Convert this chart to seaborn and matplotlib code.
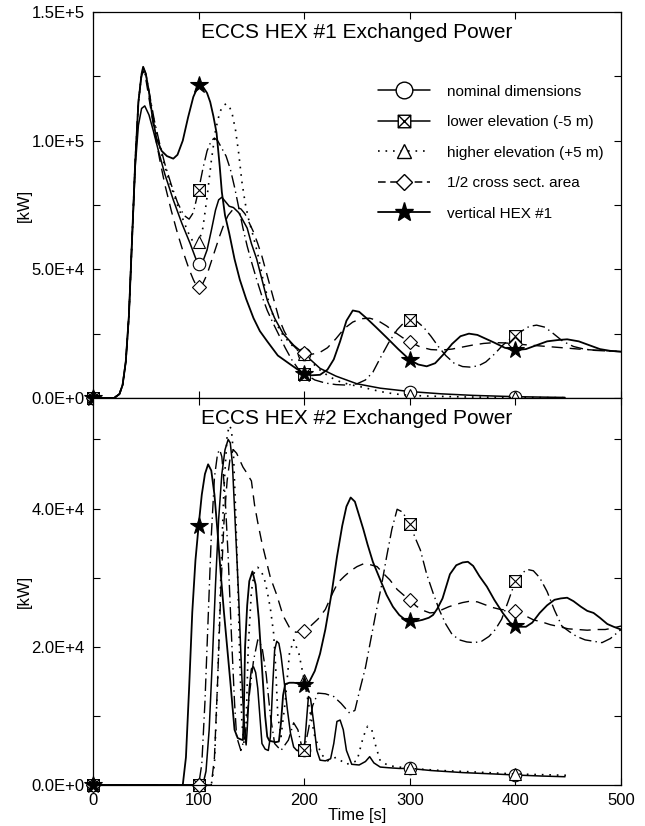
import numpy as np
import matplotlib
matplotlib.use('Agg')
import matplotlib.pyplot as plt
import seaborn as sns
from matplotlib.lines import Line2D
from matplotlib.path import Path
from matplotlib.ticker import FixedLocator, FuncFormatter

# Values: (time [s], power [kW/1000])
# ECCS HEX #1
nom_1 = [(0, 0), (20, 0), (25, 1.5), (28, 5), (31, 14), (34, 32), (37, 62), (40, 90), (43, 106), (46, 112.5),
         (49, 113.5), (53, 110), (57, 104), (62, 96), (68, 87), (76, 77), (84, 68), (92, 60), (97, 54.5), (100, 52),
         (104, 53), (108, 57.5), (112, 65), (116, 73), (119, 77), (122, 78), (125, 76.5), (129, 74.5), (133, 74),
         (138, 72), (142, 69), (146, 66), (150, 60), (155, 54), (160, 46), (165, 38), (172, 31), (180, 25),
         (190, 20.5), (200, 17.1), (215, 11.5), (230, 8.5), (250, 5.5), (272, 3.8), (300, 2.5), (330, 1.6),
         (360, 1.0), (400, 0.5), (447, 0.2)]
low_1 = [(0, 0), (20, 0), (25, 1.5), (28, 5), (31, 14), (34, 32), (37, 62), (40, 92), (43, 115), (46, 126),
         (47.5, 128.5), (50, 126), (54, 117), (58, 108), (63, 99), (68, 91), (74, 83), (80, 76), (86, 71), (91, 69.5),
         (95, 72), (100, 80.8), (104, 89), (108, 96), (112, 100), (115, 101), (118, 100), (122, 97), (126, 94),
         (130, 89), (134, 82), (138, 74), (142, 66), (146, 59), (150, 53), (155, 46), (160, 39.5), (165, 34),
         (170, 29.5), (176, 24.5), (182, 19.5), (188, 15), (194, 11.5), (200, 9.5), (210, 7), (220, 5.8), (230, 5.2),
         (240, 5), (250, 5.5), (258, 7), (265, 10), (272, 15.5), (280, 21.5), (288, 26.5), (295, 29.5), (300, 30.3),
         (306, 30), (313, 27.5), (320, 24), (327, 20), (334, 16.5), (342, 13.5), (350, 12.2), (357, 12), (365, 12.5),
         (372, 14), (380, 17), (388, 20.5), (395, 23), (400, 24.2), (406, 26), (413, 27.8), (420, 28.3), (428, 27.5),
         (436, 25), (445, 22), (455, 20), (465, 19), (475, 18.5), (490, 18.2), (500, 18)]
hi_1 = [(0, 0), (20, 0), (25, 1.5), (28, 5), (31, 14), (34, 32), (37, 62), (40, 92), (43, 115), (46, 126),
        (47.5, 128), (50, 125), (54, 116), (58, 107), (63, 98), (68, 90), (74, 82), (80, 75), (86, 68.5), (91, 63.5),
        (95, 60.5), (100, 60.5), (104, 66), (108, 78), (112, 92), (116, 104), (120, 111), (123, 113.5), (126, 114.3),
        (129, 113.5), (132, 110), (135, 104), (138, 95), (141, 84), (144, 76), (147, 70), (151, 64), (156, 56),
        (161, 46), (166, 38), (172, 30), (179, 25), (187, 21), (194, 18.5), (200, 17), (208, 13.5), (216, 10.5),
        (225, 8), (234, 6.3), (243, 5.2), (252, 4.5), (262, 3.5), (272, 2.5), (285, 1.6), (300, 1.0), (320, 0.7),
        (350, 0.4), (400, 0.2), (450, 0.1)]
half_1 = [(0, 0), (20, 0), (25, 1.5), (28, 5), (31, 14), (34, 32), (37, 62), (40, 92), (43, 115), (46, 125),
          (47.5, 127), (50, 124), (54, 114), (58, 104), (63, 93), (68, 83), (74, 73), (80, 64), (86, 56), (91, 50),
          (95, 46), (98, 43.5), (100, 43.2), (104, 44.5), (108, 48), (112, 53), (116, 58), (120, 63), (124, 67.5),
          (128, 71), (132, 73), (136, 74), (140, 73.5), (144, 71.5), (148, 68), (152, 64.5), (156, 60), (160, 55),
          (164, 49), (168, 43), (172, 37), (176, 31), (181, 26), (187, 21.5), (193, 19), (200, 17.5), (207, 17),
          (214, 17.5), (222, 19.5), (230, 23), (238, 27), (246, 29.5), (254, 30.8), (262, 31), (270, 30), (278, 28),
          (286, 25.5), (293, 23.5), (300, 21.8), (310, 19.8), (320, 18.8), (330, 18.6), (340, 19), (350, 19.8),
          (360, 20.6), (370, 21.2), (380, 21.5), (390, 21.4), (400, 21), (415, 20.5), (430, 20), (445, 19.5),
          (460, 19), (475, 18.6), (490, 18.3), (500, 18)]
star_1 = [(0, 0), (20, 0), (25, 1.5), (28, 5), (31, 14), (34, 32), (37, 62), (40, 92), (43, 115), (46, 126),
          (47.5, 128.7), (50, 126), (53, 119), (56, 110), (60, 101), (65, 96), (70, 94), (76, 93), (80, 94.5),
          (85, 100), (90, 109), (95, 117), (100, 121.6), (104, 121), (108, 118.5), (111, 115), (114, 109.5),
          (117, 103), (120, 90), (122, 80), (125, 71), (129, 64), (134, 54), (139, 46), (145, 38.5), (152, 31),
          (158, 26), (165, 22), (175, 16.5), (187, 13), (200, 9.3), (207, 8.8), (215, 9), (222, 11), (228, 15),
          (234, 22), (240, 30), (246, 34), (252, 33.5), (259, 31), (268, 27.5), (278, 23.5), (289, 19), (300, 14.8),
          (308, 13), (316, 12.3), (324, 13.5), (332, 17), (340, 21), (348, 24), (356, 25), (364, 24.5), (372, 23),
          (380, 21.5), (390, 19.5), (400, 18.6), (410, 19), (420, 20.5), (430, 22), (440, 22.5), (449, 22.8),
          (460, 22), (470, 20.5), (480, 19), (490, 18.3), (500, 18)]

# ECCS HEX #2
nom_2 = [(0, 0), (100, 0), (104, 0), (107, 2), (110, 8), (113, 18), (116, 29), (119, 38.5), (122, 45), (125, 48.5),
         (128, 50), (130, 49.5), (132, 46.5), (134, 40), (136, 33.6), (138, 27), (140, 19), (142, 12), (144, 7),
         (145, 5.8), (146, 8), (148, 14), (150, 16.8), (152, 17.1), (154, 16.3), (156, 14), (158, 10), (160, 6),
         (163, 5.2), (166, 5), (168, 7), (170, 14), (172, 19.5), (174, 20.8), (176, 20.5), (178, 18.8), (181, 15),
         (184, 11), (187, 7.5), (190, 5.5), (193, 5), (197, 5), (200, 5.1), (202, 9), (204, 12.8), (206, 12.5),
         (209, 9), (212, 5), (215, 3.6), (220, 3.5), (225, 3.8), (228, 6), (231, 9.2), (234, 9.4), (237, 8),
         (240, 5), (245, 3), (252, 2.9), (258, 3.4), (262, 4.1), (266, 3.2), (272, 2.6), (280, 2.5), (290, 2.4),
         (300, 2.4), (320, 2.1), (350, 1.8), (380, 1.6), (400, 1.45), (425, 1.3), (447, 1.2)]
low_2 = [(0, 0), (100, 0), (103, 3), (106, 12), (109, 24), (112, 36), (115, 44.5), (118, 48), (120, 48.5),
         (122, 47.5), (125, 42), (128, 33), (131, 22), (134, 12), (136, 7), (140, 5), (144, 7), (148, 13), (152, 18),
         (156, 21), (160, 20), (164, 16), (168, 10), (172, 6), (178, 5), (185, 6.5), (190, 9), (194, 8), (197, 6),
         (200, 5.1), (204, 8), (208, 11.5), (213, 13.3), (220, 13.2), (228, 12.8), (235, 11.8), (243, 10.4),
         (248, 10.8), (253, 14), (258, 17), (263, 21), (268, 25), (273, 28.7), (278, 33), (283, 37), (288, 39.9),
         (293, 39.5), (300, 37.8), (305, 35.8), (310, 34), (316, 30.5), (322, 27.8), (328, 25.3), (334, 23.3),
         (340, 21.8), (347, 21), (354, 20.7), (361, 20.6), (368, 20.8), (375, 21.5), (381, 22.5), (387, 24),
         (393, 26.5), (400, 29.5), (406, 30.6), (411, 31.2), (417, 31), (423, 30), (430, 28), (437, 25.3), (444, 23),
         (451, 22.2), (458, 21.5), (466, 21), (474, 20.8), (482, 20.6), (490, 21.2), (500, 22.5)]
hi_2 = [(0, 0), (100, 0), (112, 0), (115, 3), (118, 15), (121, 30), (124, 43), (127, 50.5), (129, 52), (131, 51.5),
        (133, 48), (135, 40), (137, 30), (139, 18), (141, 9), (143, 6), (145, 9), (147, 20), (150, 28), (153, 31),
        (156, 31.5), (159, 31), (162, 30), (165, 28), (168, 25.5), (171, 22), (173, 17), (175, 10), (178, 7),
        (182, 12), (186, 19), (190, 21), (195, 19), (200, 15.2), (205, 11), (210, 7), (216, 4.5), (222, 3.5),
        (230, 4), (240, 3), (250, 3.5), (256, 7), (260, 8.5), (264, 8), (268, 5.5), (272, 3.5), (280, 2.8),
        (290, 2.6), (300, 2.4), (330, 2.1), (360, 1.9), (400, 1.6), (450, 1.4)]
half_2 = [(0, 0), (100, 0), (112, 0), (115, 4), (118, 15), (121, 28), (124, 38), (127, 44), (130, 47.5),
          (133, 48.5), (136, 48), (139, 47), (142, 46), (145, 45.3), (148, 44.5), (150, 44), (153, 40.5), (156, 38),
          (160, 35), (164, 32.5), (168, 30), (174, 27.5), (180, 24.5), (186, 22.8), (192, 22.1), (200, 22.3),
          (206, 23), (213, 24), (220, 25.4), (227, 27.8), (232, 29.3), (238, 30.2), (244, 31), (250, 31.6),
          (256, 32), (262, 31.9), (269, 31.6), (275, 30.6), (281, 29.7), (288, 28.3), (294, 27.5), (300, 26.8),
          (306, 25.9), (312, 25.3), (319, 24.9), (325, 25), (331, 25.4), (337, 25.8), (343, 26.1), (350, 26.4),
          (357, 26.6), (364, 26.5), (371, 26.1), (378, 25.7), (386, 25.4), (393, 25.3), (400, 25.2), (408, 24.6),
          (417, 23.9), (425, 23.6), (433, 23.2), (442, 22.9), (450, 22.6), (459, 22.5), (468, 22.4), (477, 22.5),
          (485, 22.5), (492, 22.7), (500, 23)]
star_2 = [(0, 0), (85, 0), (88, 4), (91, 14), (94, 25), (97, 32.5), (100, 37.5), (103, 42), (106, 45), (109, 46.4),
          (112, 45.5), (115, 42), (118, 36.5), (121, 30.5), (124, 25), (127, 20), (130, 15), (132, 11.5), (134, 8),
          (137, 6.8), (140, 6.6), (142, 6.5), (143, 12), (144, 20), (146, 26), (148, 29.5), (151, 30.9), (154, 29),
          (157, 24), (160, 17), (163, 10), (165, 7), (167, 6.4), (170, 6.3), (173, 6.2), (176, 6.3), (178, 9),
          (180, 13), (182, 14.6), (186, 14.8), (190, 14.8), (195, 14.7), (200, 14.5), (205, 15), (210, 16.5),
          (215, 19), (220, 22.5), (226, 27.8), (231, 33), (236, 37.5), (240, 40.3), (244, 41.6), (248, 41),
          (252, 39), (256, 37), (260, 34.8), (265, 32.3), (272, 29.7), (278, 27.5), (284, 25.8), (290, 24.6),
          (295, 24), (300, 23.7), (306, 23.7), (312, 23.9), (318, 24.2), (322, 24.6), (326, 25.5), (331, 27),
          (335, 29), (338, 30.5), (344, 31.8), (350, 32.2), (355, 32.3), (360, 31.7), (366, 30.2), (373, 28.7),
          (380, 26.8), (388, 24.9), (395, 23.5), (400, 23), (405, 22.9), (410, 22.9), (416, 23.5), (423, 24.9),
          (430, 26), (437, 26.8), (443, 27), (449, 27.1), (455, 26.6), (462, 25.8), (468, 25.2), (474, 24.9),
          (480, 24.2), (487, 23.3), (493, 22.9), (500, 22.5)]

legendas = ['nominal dimensions', 'lower elevation (-5 m)', 'higher elevation (+5 m)',
            '1/2 cross sect. area', 'vertical HEX #1']
titulos = ['ECCS HEX #1 Exchanged Power', 'ECCS HEX #2 Exchanged Power']

sns.set_style('ticks', {'axes.edgecolor': 'black', 'text.color': 'black', 'xtick.color': 'black',
                        'ytick.color': 'black', 'axes.labelcolor': 'black'})
plt.rcParams['font.family'] = ['Liberation Sans', 'DejaVu Sans']

# square with an X inside
caixa_x = Path([(-1, -1), (1, -1), (1, 1), (-1, 1), (-1, -1), (-1, -1), (1, 1), (-1, 1), (1, -1)],
               [Path.MOVETO, Path.LINETO, Path.LINETO, Path.LINETO, Path.CLOSEPOLY,
                Path.MOVETO, Path.LINETO, Path.MOVETO, Path.LINETO])

estilos = {
    'nom': dict(linestyle='-', lw=1.1, marker='o', markersize=9, markerfacecolor='white'),
    'low': dict(linestyle=(0, (9, 3, 1, 3)), lw=1.0, marker=caixa_x, markersize=8.5, markerfacecolor='white'),
    'hi': dict(linestyle=(0, (1, 3.5)), lw=1.2, marker='^', markersize=9, markerfacecolor='white'),
    'half': dict(linestyle=(0, (8, 5)), lw=1.0, marker='D', markersize=7, markerfacecolor='white'),
    'star': dict(linestyle='-', lw=1.3, marker='*', markersize=13, markerfacecolor='black'),
}


def desenha(ax, pares, estilo):
    t = np.array([p[0] for p in pares], dtype=float)
    v = np.array([p[1] for p in pares], dtype=float) * 1000
    marcas = [i for i, x in enumerate(t) if x in (0, 100, 200, 300, 400)]
    sns.lineplot(x=t, y=v, ax=ax, color='black', estimator=None, errorbar=None, sort=False,
                 markevery=marcas, markeredgecolor='black', markeredgewidth=0.8, clip_on=False,
                 **estilos[estilo])


def rotulo(v):
    if abs(v) < 1:
        return '0.0E+0'
    e = int(np.floor(np.log10(v)))
    return f'{v / 10 ** e:.1f}E+{e}'


fig = plt.figure(figsize=(6.45, 8.26), dpi=100)
ax1 = fig.add_axes([0.1442, 0.5182, 0.8186, 0.4673])
ax2 = fig.add_axes([0.1442, 0.0496, 0.8186, 0.4686])

for nome, pares in [('nom', nom_1), ('low', low_1), ('hi', hi_1), ('half', half_1), ('star', star_1)]:
    desenha(ax1, pares, nome)
for nome, pares in [('nom', nom_2), ('low', low_2), ('hi', hi_2), ('half', half_2), ('star', star_2)]:
    desenha(ax2, pares, nome)

ax1.set_ylim(0, 150000)
ax2.set_ylim(0, 56000)
ax1.yaxis.set_major_locator(FixedLocator(np.arange(0, 150001, 25000)))
ax1.yaxis.set_major_formatter(FuncFormatter(lambda v, p: rotulo(v) if round(v) % 50000 == 0 else ''))
ax2.yaxis.set_major_locator(FixedLocator(np.arange(0, 50001, 10000)))
ax2.yaxis.set_major_formatter(FuncFormatter(lambda v, p: rotulo(v) if round(v) % 20000 == 0 else ''))

for ax, titulo in zip([ax1, ax2], titulos):
    ax.set_xlim(0, 500)
    ax.set_xticks(range(0, 501, 100))
    ax.tick_params(direction='in', top=True, right=True, length=5, width=0.8, labelsize=12, pad=6)
    for s in ax.spines.values():
        s.set_linewidth(0.9)
    ax.text(0.5, 0.948, titulo, transform=ax.transAxes, ha='center', va='center', fontsize=15)
    ax.set_ylabel('[kW]', fontsize=12)
    ax.yaxis.set_label_coords(-0.115, 0.5)
    ax.set_xlabel('')

ax1.tick_params(labelbottom=False)
ax2.set_xlabel('Time [s]', fontsize=12)
ax2.xaxis.set_label_coords(0.5, -0.06)

alcas = [
    Line2D([], [], color='black', lw=1.1, marker='o', markersize=12, markerfacecolor='white', markeredgecolor='black'),
    Line2D([], [], color='black', lw=1.1, marker=caixa_x, markersize=9, markerfacecolor='white', markeredgecolor='black'),
    Line2D([], [], color='black', lw=1.2, linestyle=(0, (1, 3.5)), marker='^', markersize=10,
           markerfacecolor='white', markeredgecolor='black'),
    Line2D([], [], color='black', lw=1.1, linestyle=(0, (5, 3)), marker='D', markersize=8,
           markerfacecolor='white', markeredgecolor='black'),
    Line2D([], [], color='black', lw=1.3, marker='*', markersize=14, markerfacecolor='black', markeredgecolor='black'),
]
ax1.legend(alcas, legendas, loc='upper left', bbox_to_anchor=(0.54, 0.812), frameon=False, fontsize=11,
           handlelength=3.4, handletextpad=1.1, labelspacing=1.08, borderaxespad=0, borderpad=0, numpoints=1)

fig.savefig('out.png', dpi=100)
